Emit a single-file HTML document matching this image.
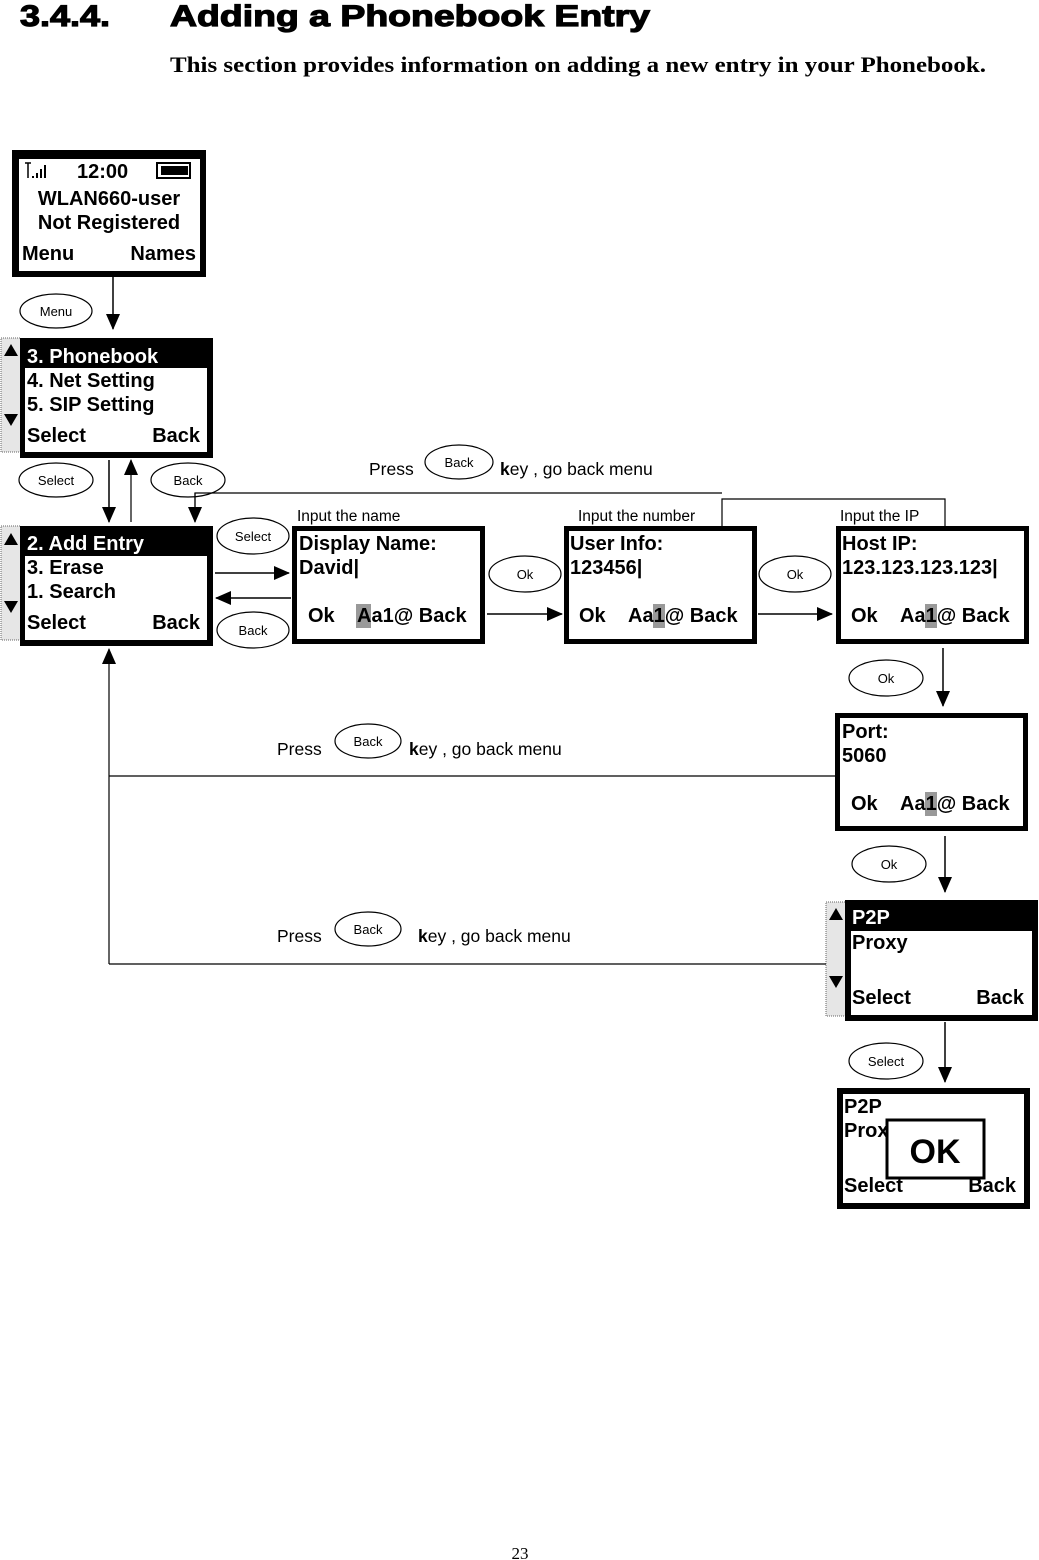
<!DOCTYPE html>
<html><head><meta charset="utf-8"><style>
html,body{margin:0;padding:0;background:#fff;}
svg{display:block;}
text{font-family:"Liberation Sans",Arial,sans-serif;}
.b{font-weight:bold;font-size:20px;}
.s{font-size:13px;}
.m{font-size:17.5px;}
</style></head><body>
<svg width="1039" height="1560" viewBox="0 0 1039 1560" xmlns="http://www.w3.org/2000/svg">
<defs>
<marker id="a" markerWidth="18" markerHeight="16" refX="15" refY="7" orient="auto" markerUnits="userSpaceOnUse">
<path d="M0,0 L16,7 L0,14 Z" fill="#000"/></marker>
</defs>
<!-- Title -->
<text x="20" y="26" font-size="30" font-weight="900" stroke="#000" stroke-width="1.2" textLength="90" lengthAdjust="spacingAndGlyphs">3.4.4.</text>
<text x="170" y="26" font-size="30" font-weight="900" stroke="#000" stroke-width="1.2" textLength="480" lengthAdjust="spacingAndGlyphs">Adding a Phonebook Entry</text>
<text x="170" y="72" font-size="22" font-weight="bold" style="font-family:'Liberation Serif',serif" textLength="816" lengthAdjust="spacingAndGlyphs">This section provides information on adding a new entry in your Phonebook.</text>

<!-- Screen 1 -->
<rect x="12" y="150" width="194" height="127" fill="#000"/>
<rect x="19" y="159" width="181" height="112" fill="#fff"/>
<g stroke="#000" stroke-width="1.5" fill="none"><path d="M25,163 L31,163 M28,163 L28,178"/><path d="M33,176v2 M37,173v5 M41,169v9 M45,165v13" stroke-width="2"/></g>
<text x="77" y="178" class="b">12:00</text>
<rect x="157" y="163" width="33" height="15" fill="none" stroke="#000" stroke-width="2"/>
<rect x="161" y="166" width="27" height="9" fill="#000"/>
<text x="109" y="205" class="b" text-anchor="middle">WLAN660-user</text>
<text x="109" y="229" class="b" text-anchor="middle">Not Registered</text>
<text x="22" y="260" class="b">Menu</text>
<text x="196" y="260" class="b" text-anchor="end">Names</text>

<line x1="113" y1="277" x2="113" y2="329" stroke="#000" stroke-width="1.5" marker-end="url(#a)"/>
<ellipse cx="56" cy="311" rx="36" ry="17" fill="#fff" stroke="#000" stroke-width="1.2"/>
<text x="56" y="316" class="s" text-anchor="middle">Menu</text>

<!-- Screen 2 -->
<rect x="1" y="338" width="20" height="114" fill="#e6e6e6" stroke="#666" stroke-width="1" stroke-dasharray="1,1"/>
<path d="M4,356 L11,344 L18,356Z M4,414 L18,414 L11,426Z" fill="#000"/>
<rect x="20" y="338" width="193" height="120" fill="#000"/>
<rect x="25" y="368" width="182" height="84" fill="#fff"/>
<text x="27" y="363" class="b" fill="#fff">3. Phonebook</text>
<text x="27" y="387" class="b">4. Net Setting</text>
<text x="27" y="411" class="b">5. SIP Setting</text>
<text x="27" y="442" class="b">Select</text>
<text x="200" y="442" class="b" text-anchor="end">Back</text>

<ellipse cx="56" cy="480" rx="37" ry="17" fill="#fff" stroke="#000" stroke-width="1.2"/>
<text x="56" y="485" class="s" text-anchor="middle">Select</text>
<ellipse cx="188" cy="480" rx="37" ry="17" fill="#fff" stroke="#000" stroke-width="1.2"/>
<text x="188" y="485" class="s" text-anchor="middle">Back</text>
<line x1="109" y1="460" x2="109" y2="522" stroke="#000" stroke-width="1.5" marker-end="url(#a)"/>
<line x1="131" y1="522" x2="131" y2="460" stroke="#000" stroke-width="1.2" marker-end="url(#a)"/>

<text x="369" y="475" class="m">Press</text>
<ellipse cx="459" cy="462" rx="34" ry="17" fill="#fff" stroke="#000" stroke-width="1.2"/>
<text x="459" y="467" class="s" text-anchor="middle">Back</text>
<text x="500" y="475" class="m"><tspan font-weight="bold">k</tspan>ey , go back menu</text>

<!-- top return lines -->
<polyline points="195,522 195,493 722,493" fill="none" stroke="#000" stroke-width="1.2"/>
<polyline points="722,526 722,499 945,499 945,526" fill="none" stroke="#000" stroke-width="1.2"/>
<line x1="195" y1="493" x2="195" y2="522" stroke="#000" stroke-width="1.2" marker-end="url(#a)"/>
<text x="297" y="521" font-size="15.5">Input the name</text>
<text x="578" y="521" font-size="15.5">Input the number</text>
<text x="840" y="521" font-size="15.5">Input the IP</text>

<!-- Screen 3 -->
<rect x="1" y="526" width="20" height="114" fill="#e6e6e6" stroke="#666" stroke-width="1" stroke-dasharray="1,1"/>
<path d="M4,545 L11,533 L18,545Z M4,601 L18,601 L11,613Z" fill="#000"/>
<rect x="20" y="526" width="193" height="120" fill="#000"/>
<rect x="25" y="556" width="182" height="84" fill="#fff"/>
<text x="27" y="550" class="b" fill="#fff">2. Add Entry</text>
<text x="27" y="574" class="b">3. Erase</text>
<text x="27" y="598" class="b">1. Search</text>
<text x="27" y="629" class="b">Select</text>
<text x="200" y="629" class="b" text-anchor="end">Back</text>

<ellipse cx="253" cy="536" rx="36" ry="18" fill="#fff" stroke="#000" stroke-width="1.2"/>
<text x="253" y="541" class="s" text-anchor="middle">Select</text>
<ellipse cx="253" cy="630" rx="36" ry="18" fill="#fff" stroke="#000" stroke-width="1.2"/>
<text x="253" y="635" class="s" text-anchor="middle">Back</text>
<line x1="215" y1="573" x2="289" y2="573" stroke="#000" stroke-width="1.5" marker-end="url(#a)"/>
<line x1="291" y1="598" x2="216" y2="598" stroke="#000" stroke-width="1.5" marker-end="url(#a)"/>

<!-- Display Name -->
<rect x="292" y="526" width="193" height="118" fill="#000"/>
<rect x="297" y="531" width="183" height="108" fill="#fff"/>
<text x="299" y="550" class="b">Display Name:</text>
<text x="299" y="574" class="b">David|</text>
<rect x="356" y="604" width="15" height="24" fill="#999"/>
<text x="308" y="622" class="b">Ok</text><text x="357" y="622" class="b">Aa1@ Back</text>

<ellipse cx="525" cy="574" rx="36" ry="18" fill="#fff" stroke="#000" stroke-width="1.2"/>
<text x="525" y="579" class="s" text-anchor="middle">Ok</text>
<line x1="487" y1="614" x2="562" y2="614" stroke="#000" stroke-width="1.5" marker-end="url(#a)"/>

<!-- User Info -->
<rect x="564" y="526" width="193" height="118" fill="#000"/>
<rect x="569" y="531" width="183" height="108" fill="#fff"/>
<text x="570" y="550" class="b">User Info:</text>
<text x="570" y="574" class="b">123456|</text>
<rect x="653" y="604" width="12" height="24" fill="#999"/>
<text x="579" y="622" class="b">Ok</text><text x="628" y="622" class="b">Aa1@ Back</text>

<ellipse cx="795" cy="574" rx="36" ry="18" fill="#fff" stroke="#000" stroke-width="1.2"/>
<text x="795" y="579" class="s" text-anchor="middle">Ok</text>
<line x1="758" y1="614" x2="832" y2="614" stroke="#000" stroke-width="1.5" marker-end="url(#a)"/>

<!-- Host IP -->
<rect x="836" y="526" width="193" height="118" fill="#000"/>
<rect x="841" y="531" width="183" height="108" fill="#fff"/>
<text x="842" y="550" class="b">Host IP:</text>
<text x="842" y="574" class="b">123.123.123.123|</text>
<rect x="925" y="604" width="12" height="24" fill="#999"/>
<text x="851" y="622" class="b">Ok</text><text x="900" y="622" class="b">Aa1@ Back</text>

<ellipse cx="886" cy="678" rx="37" ry="18" fill="#fff" stroke="#000" stroke-width="1.2"/>
<text x="886" y="683" class="s" text-anchor="middle">Ok</text>
<line x1="943" y1="648" x2="943" y2="706" stroke="#000" stroke-width="1.5" marker-end="url(#a)"/>

<!-- Port -->
<rect x="835" y="713" width="193" height="118" fill="#000"/>
<rect x="840" y="718" width="183" height="108" fill="#fff"/>
<text x="842" y="738" class="b">Port:</text>
<text x="842" y="762" class="b">5060</text>
<rect x="925" y="792" width="12" height="24" fill="#999"/>
<text x="851" y="810" class="b">Ok</text><text x="900" y="810" class="b">Aa1@ Back</text>

<ellipse cx="889" cy="864" rx="37" ry="18" fill="#fff" stroke="#000" stroke-width="1.2"/>
<text x="889" y="869" class="s" text-anchor="middle">Ok</text>
<line x1="945" y1="836" x2="945" y2="892" stroke="#000" stroke-width="1.5" marker-end="url(#a)"/>

<!-- P2P -->
<rect x="826" y="902" width="20" height="114" fill="#e6e6e6" stroke="#666" stroke-width="1" stroke-dasharray="1,1"/>
<path d="M829,920 L836,908 L843,920Z M829,976 L843,976 L836,988Z" fill="#000"/>
<rect x="845" y="900" width="193" height="121" fill="#000"/>
<rect x="851" y="931" width="181" height="84" fill="#fff"/>
<text x="852" y="924" class="b" fill="#fff">P2P</text>
<text x="852" y="949" class="b">Proxy</text>
<text x="852" y="1004" class="b">Select</text>
<text x="1024" y="1004" class="b" text-anchor="end">Back</text>

<ellipse cx="886" cy="1061" rx="37" ry="18" fill="#fff" stroke="#000" stroke-width="1.2"/>
<text x="886" y="1066" class="s" text-anchor="middle">Select</text>
<line x1="945" y1="1022" x2="945" y2="1082" stroke="#000" stroke-width="1.5" marker-end="url(#a)"/>

<!-- Final -->
<rect x="837" y="1088" width="193" height="121" fill="#000"/>
<rect x="843" y="1094" width="181" height="109" fill="#fff"/>
<text x="844" y="1113" class="b">P2P</text>
<text x="844" y="1137" class="b">Proxy</text>
<text x="844" y="1192" class="b">Select</text>
<text x="1016" y="1192" class="b" text-anchor="end">Back</text>
<rect x="887" y="1120" width="97" height="58" fill="#fff" stroke="#000" stroke-width="3"/>
<text x="935" y="1163" font-size="34" font-weight="bold" text-anchor="middle">OK</text>

<!-- bottom return lines -->
<line x1="109" y1="776" x2="835" y2="776" stroke="#000" stroke-width="1.2"/>
<line x1="109" y1="964" x2="826" y2="964" stroke="#000" stroke-width="1.2"/>
<line x1="109" y1="964" x2="109" y2="649" stroke="#000" stroke-width="1.2" marker-end="url(#a)"/>

<text x="277" y="755" class="m">Press</text>
<ellipse cx="368" cy="741" rx="33" ry="17" fill="#fff" stroke="#000" stroke-width="1.2"/>
<text x="368" y="746" class="s" text-anchor="middle">Back</text>
<text x="409" y="755" class="m"><tspan font-weight="bold">k</tspan>ey , go back menu</text>

<text x="277" y="942" class="m">Press</text>
<ellipse cx="368" cy="929" rx="33" ry="17" fill="#fff" stroke="#000" stroke-width="1.2"/>
<text x="368" y="934" class="s" text-anchor="middle">Back</text>
<text x="418" y="942" class="m"><tspan font-weight="bold">k</tspan>ey , go back menu</text>

<text x="520" y="1559" font-size="17" text-anchor="middle" style="font-family:'Liberation Serif',serif">23</text>
</svg>
</body></html>
